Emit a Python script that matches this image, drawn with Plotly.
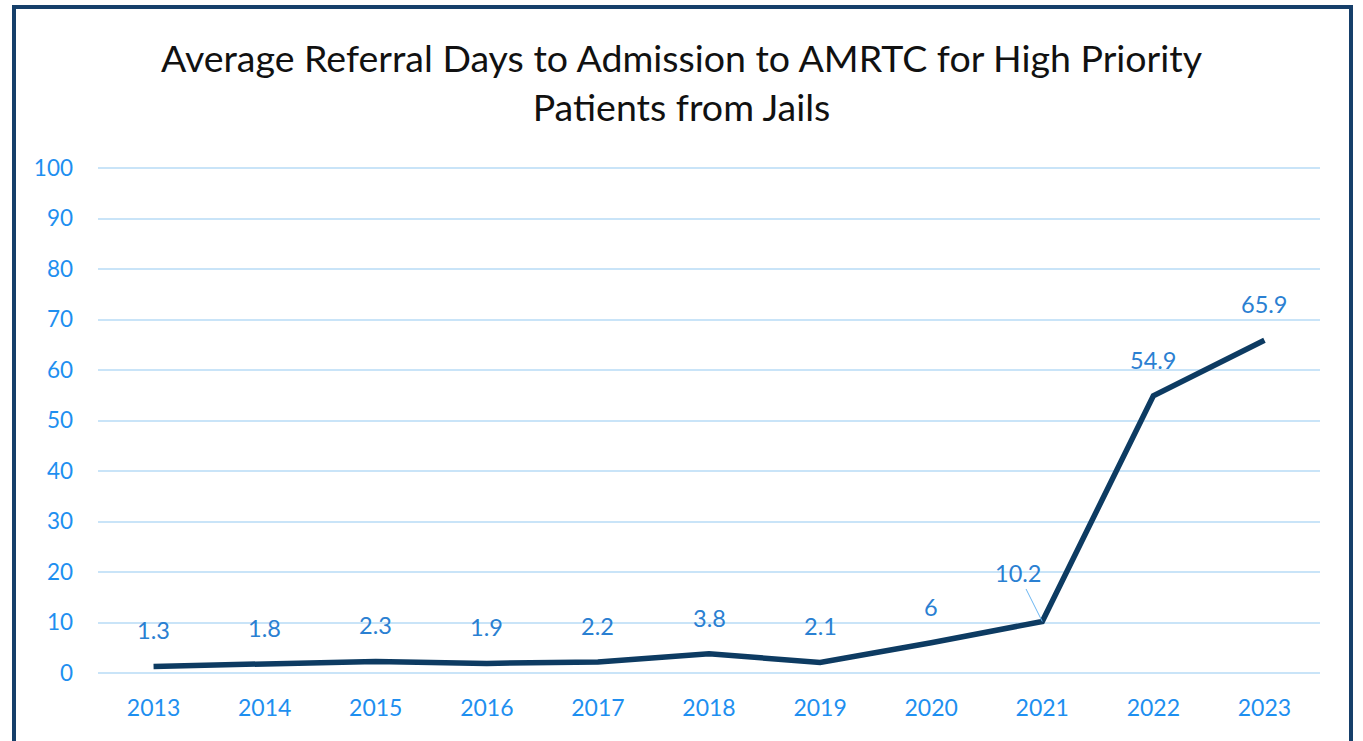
import plotly.graph_objects as go

years = ["2013", "2014", "2015", "2016", "2017", "2018", "2019", "2020", "2021", "2022", "2023"]
days = [1.3, 1.8, 2.3, 1.9, 2.2, 3.8, 2.1, 6, 10.2, 54.9, 65.9]
day_labels = ["1.3", "1.8", "2.3", "1.9", "2.2", "3.8", "2.1", "6", "10.2", "54.9", "65.9"]
y_ticks = [0, 10, 20, 30, 40, 50, 60, 70, 80, 90, 100]

W, H = 1363, 741
ML, MR, MT, MB = 98, 43, 167, 68

TICK_COLOR = "#1E8FF0"
LABEL_COLOR = "#2A80D2"
LINE_COLOR = "#0D3B62"
GRID_COLOR = "#C9E4F8"
FRAME_COLOR = "#163F6A"
FONT = "Lato"

fig = go.Figure()
fig.add_trace(go.Scatter(
    x=years, y=days, mode="lines",
    line=dict(color=LINE_COLOR, width=5.5),
    cliponaxis=False, hoverinfo="x+y", showlegend=False,
))

annotations = []
for i, (yr, v, lab) in enumerate(zip(years, days, day_labels)):
    if yr == "2021":
        annotations.append(dict(
            x=i, y=v, xref="x", yref="y", text=lab,
            showarrow=True, arrowhead=0, arrowwidth=1, arrowcolor="#6BB6F2",
            ax=-24, ay=-48, standoff=0,
            font=dict(family=FONT, size=23.5, color=LABEL_COLOR),
        ))
    else:
        annotations.append(dict(
            x=i, y=v, xref="x", yref="y", text=lab, showarrow=False,
            yshift=36, font=dict(family=FONT, size=23.5, color=LABEL_COLOR),
        ))

pw = W - ML - MR
ph = H - MT - MB
fx0 = (14 - ML) / pw
fx1 = (1351 - ML) / pw
fy1 = (H - MB - 7) / ph
fy0 = (H - MB - 760) / ph

fig.update_layout(
    width=W, height=H,
    margin=dict(l=ML, r=MR, t=MT, b=MB),
    paper_bgcolor="white", plot_bgcolor="white",
    title=dict(
        text="Average Referral Days to Admission to AMRTC for High Priority<br>Patients from Jails",
        x=0.5, xref="container", xanchor="center",
        y=1 - 72 / H, yref="container", yanchor="middle",
        font=dict(family=FONT, size=37.5, color="#111111"),
    ),
    xaxis=dict(
        type="category", categoryorder="array", categoryarray=years,
        range=[-0.5, len(years) - 0.5],
        showgrid=False, zeroline=False, showline=False,
        ticks="", ticklabelstandoff=19,
        tickfont=dict(family=FONT, size=23, color=TICK_COLOR),
    ),
    yaxis=dict(
        range=[0, 100.2], tickvals=y_ticks, ticktext=[str(t) for t in y_ticks],
        showgrid=True, gridcolor=GRID_COLOR, gridwidth=1.5,
        zeroline=True, zerolinecolor=GRID_COLOR, zerolinewidth=1.5,
        showline=False, ticks="", ticklabelstandoff=24,
        tickfont=dict(family=FONT, size=22.5, color=TICK_COLOR),
    ),
    annotations=annotations,
    shapes=[dict(
        type="rect", xref="paper", yref="paper",
        x0=fx0, x1=fx1, y0=fy0, y1=fy1,
        line=dict(color=FRAME_COLOR, width=4), layer="above",
    )],
)

fig.write_html(
    "out.html",
    config={"displayModeBar": False},
    post_script="document.body.style.margin='0';document.body.style.overflow='hidden';",
)
